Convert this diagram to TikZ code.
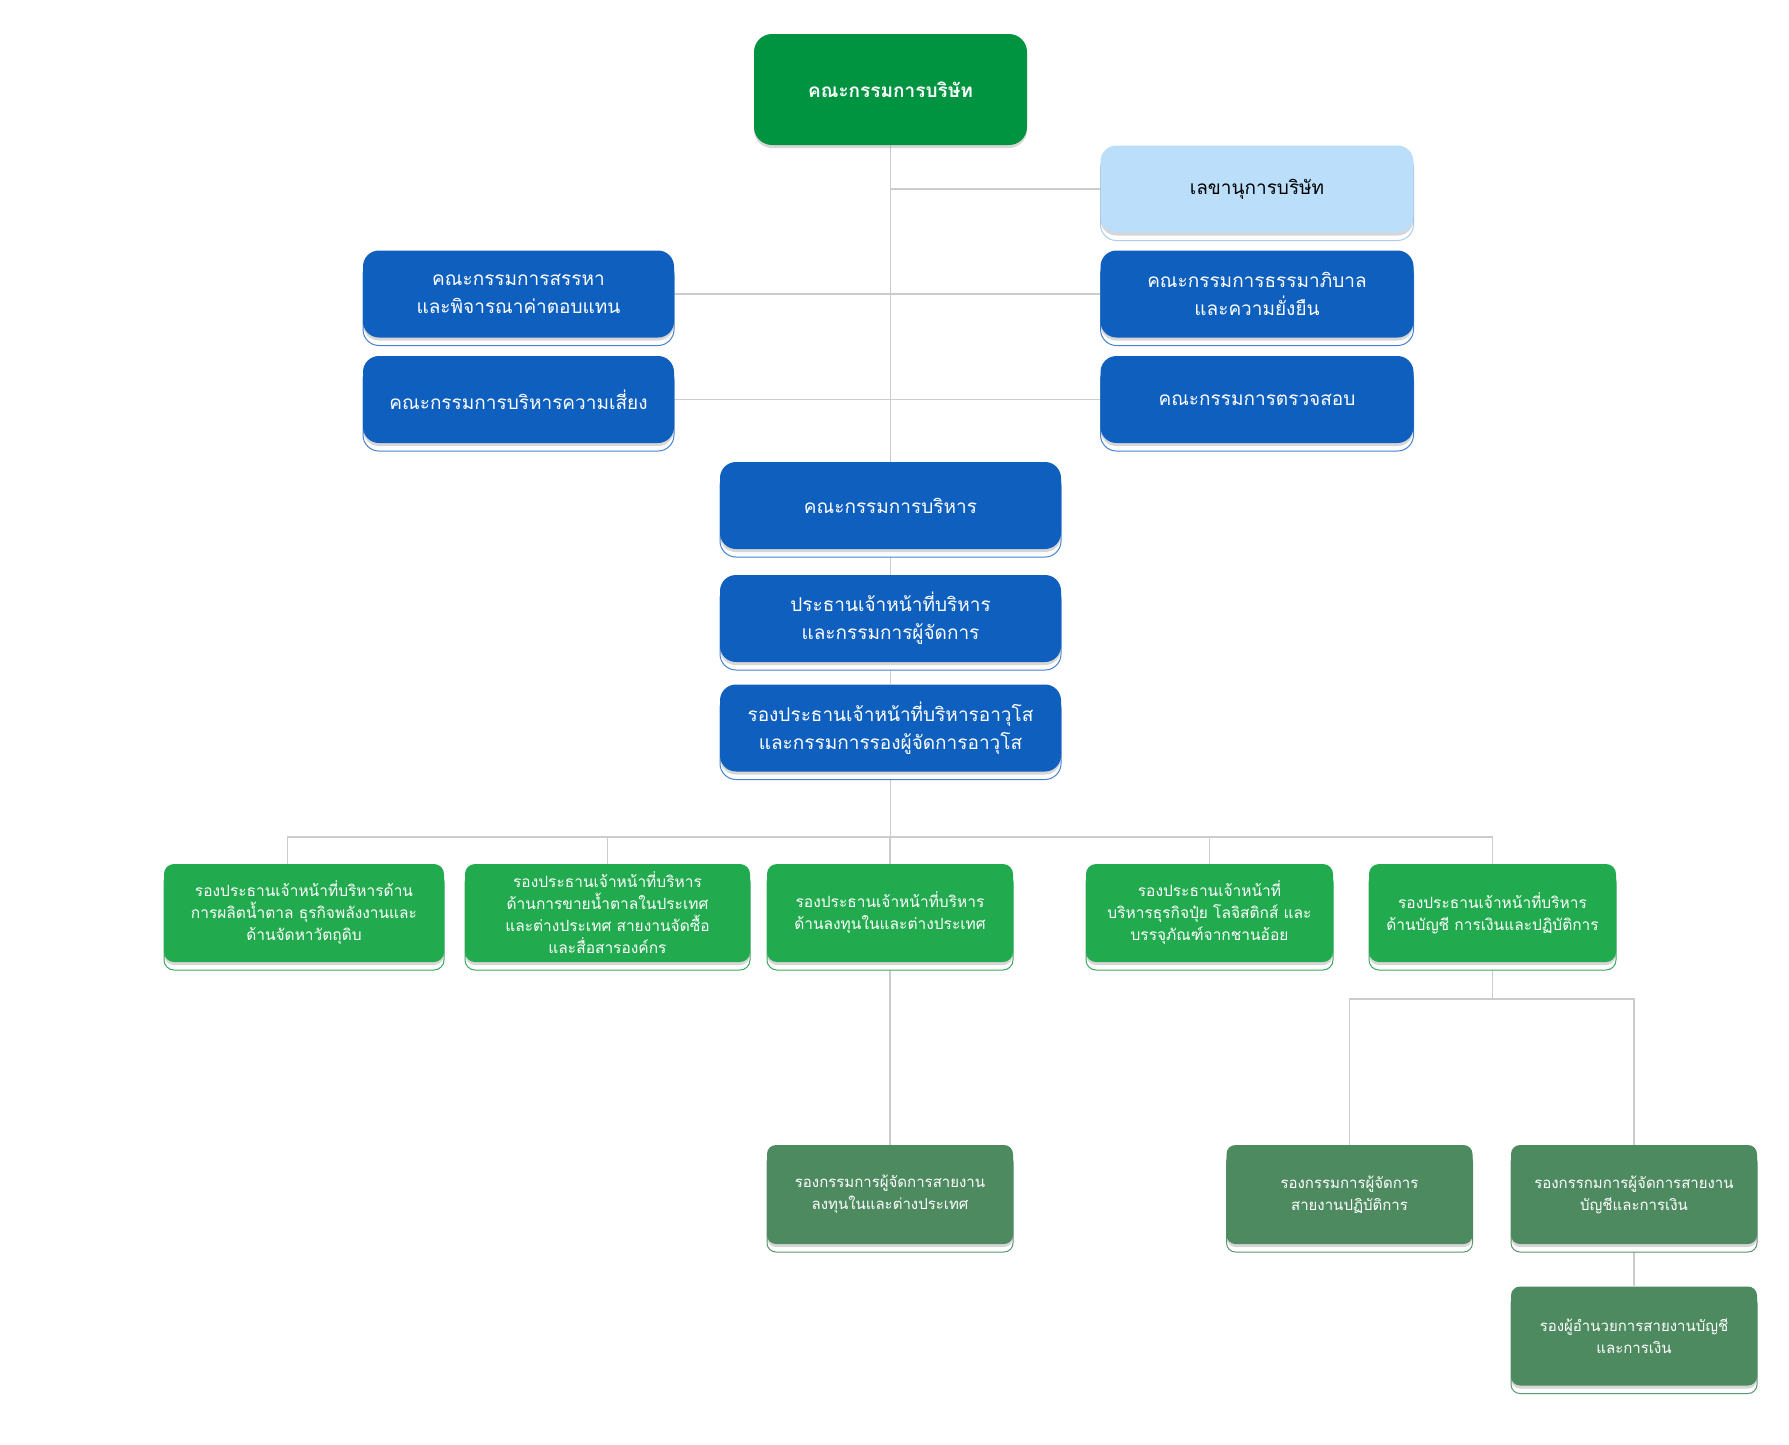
\documentclass[tikz,border=0pt]{standalone}
\usepackage{fontspec}
\newfontfamily\thai[Script=Thai]{Loma}
\usetikzlibrary{shadows,backgrounds}
\definecolor{topgreen}{RGB}{0,148,64}
\definecolor{secblue}{RGB}{187,222,251}
\definecolor{secedge}{RGB}{170,205,240}
\definecolor{mainblue}{RGB}{15,95,191}
\definecolor{blueedge}{RGB}{70,130,210}
\definecolor{midgreen}{RGB}{34,170,78}
\definecolor{midedge}{RGB}{60,170,95}
\definecolor{lowgreen}{RGB}{78,138,96}
\definecolor{lowedge}{RGB}{90,150,110}
\definecolor{linegray}{RGB}{204,204,204}
\tikzset{
  backcopy/.style={general shadow={fill=white, draw=#1, line width=1pt, opacity=1, shadow xshift=0pt, shadow yshift=-8pt}},
  softsh/.style={general shadow={fill=black, draw=none, opacity=0.16, shadow xshift=0pt, shadow yshift=-3pt}},
  basebox/.style={rectangle, draw=none, align=center, inner sep=3pt, text=white},
  topbox/.style={basebox, fill=topgreen, rounded corners=18pt, minimum width=273pt, minimum height=111pt, softsh, font=\thai\bfseries\fontsize{19}{26}\selectfont},
  secbox/.style={basebox, fill=secblue, text=black, rounded corners=16pt, minimum width=313pt, minimum height=87pt, backcopy=secedge, softsh, font=\thai\fontsize{19}{28}\selectfont},
  bluebox/.style={basebox, fill=mainblue, rounded corners=16pt, minimum height=87pt, backcopy=blueedge, softsh, font=\thai\fontsize{19}{28}\selectfont},
  midbox/.style={basebox, fill=midgreen, rounded corners=10pt, minimum height=98pt, backcopy=midedge, softsh, font=\thai\fontsize{15.5}{22}\selectfont},
  lowbox/.style={basebox, fill=lowgreen, rounded corners=9pt, minimum width=246pt, minimum height=99pt, backcopy=lowedge, softsh, font=\thai\fontsize{15}{22}\selectfont},
  conn/.style={draw=linegray, line width=1.2pt}
}
\begin{document}
\begin{tikzpicture}[x=1pt, y=-1pt]
\useasboundingbox (0,0) rectangle (1789,1444);
% top level
\node[topbox] (top) at (890.5,89.5) {คณะกรรมการบริษัท};
\node[secbox] (sec) at (1257,189) {เลขานุการบริษัท};
\node[bluebox, minimum width=311pt] (nom) at (518.5,294) {คณะกรรมการสรรหา\\และพิจารณาค่าตอบแทน};
\node[bluebox, minimum width=313pt] (gov) at (1257,294) {คณะกรรมการธรรมาภิบาล\\และความยั่งยืน};
\node[bluebox, minimum width=311pt] (risk) at (518.5,399.5) {คณะกรรมการบริหารความเสี่ยง};
\node[bluebox, minimum width=313pt] (audit) at (1257,399.5) {คณะกรรมการตรวจสอบ};
\node[bluebox, minimum width=341pt] (exec) at (890.5,505.5) {คณะกรรมการบริหาร};
\node[bluebox, minimum width=341pt] (ceo) at (890.5,618.5) {ประธานเจ้าหน้าที่บริหาร\\และกรรมการผู้จัดการ};
\node[bluebox, minimum width=341pt] (sevp) at (890.5,728) {รองประธานเจ้าหน้าที่บริหารอาวุโส\\และกรรมการรองผู้จัดการอาวุโส};
% second row
\node[midbox, minimum width=280pt] (b1) at (304,913) {รองประธานเจ้าหน้าที่บริหารด้าน\\การผลิตน้ำตาล ธุรกิจพลังงานและ\\ด้านจัดหาวัตถุดิบ};
\node[midbox, minimum width=285pt] (b2) at (607.5,913) {รองประธานเจ้าหน้าที่บริหาร\\ด้านการขายน้ำตาลในประเทศ\\และต่างประเทศ สายงานจัดซื้อ\\และสื่อสารองค์กร};
\node[midbox, minimum width=246pt] (b3) at (890,913) {รองประธานเจ้าหน้าที่บริหาร\\ด้านลงทุนในและต่างประเทศ};
\node[midbox, minimum width=247pt] (b4) at (1209.5,913) {รองประธานเจ้าหน้าที่\\บริหารธุรกิจปุ๋ย โลจิสติกส์ และ\\บรรจุภัณฑ์จากชานอ้อย};
\node[midbox, minimum width=247pt] (b5) at (1492.5,913) {รองประธานเจ้าหน้าที่บริหาร\\ด้านบัญชี การเงินและปฏิบัติการ};
% third row
\node[lowbox] (c1) at (890,1194.5) {รองกรรมการผู้จัดการสายงาน\\ลงทุนในและต่างประเทศ};
\node[lowbox] (c2) at (1349.5,1194.5) {รองกรรมการผู้จัดการ\\สายงานปฏิบัติการ};
\node[lowbox] (c3) at (1634,1194.5) {รองกรรกมการผู้จัดการสายงาน\\บัญชีและการเงิน};
\node[lowbox] (d1) at (1634,1336) {รองผู้อำนวยการสายงานบัญชี\\และการเงิน};
% junctions
\coordinate (barL) at (287.5,837);
\coordinate (barR) at (1492.5,837);
\coordinate (bar2L) at (1349.5,999);
\coordinate (bar2R) at (1634,999);
\begin{scope}[on background layer]
\fill[white] (0,0) rectangle (1789,1444);
\draw[conn] (top.south) -- (exec.north);
\draw[conn] (top.south |- sec.west) -- (sec.west);
\draw[conn] (nom.east) -- (gov.west);
\draw[conn] (risk.east) -- (audit.west);
\draw[conn] (exec.south) -- (ceo.north);
\draw[conn] (ceo.south) -- (sevp.north);
\draw[conn] (sevp.south) -- (sevp.south |- barL);
\draw[conn] (barL |- b1.north) -- (barL) -- (barR) -- (b5.north);
\draw[conn] (b2.north) -- (b2.north |- barL);
\draw[conn] (b3.north) -- (b3.north |- barL);
\draw[conn] (b4.north) -- (b4.north |- barL);
\draw[conn] (b3.south) -- (c1.north);
\draw[conn] (b5.south) -- (b5.south |- bar2L);
\draw[conn] (c2.north) -- (bar2L) -- (bar2R) -- (c3.north);
\draw[conn] (c3.south) -- (d1.north);
\end{scope}
\end{tikzpicture}
\end{document}
